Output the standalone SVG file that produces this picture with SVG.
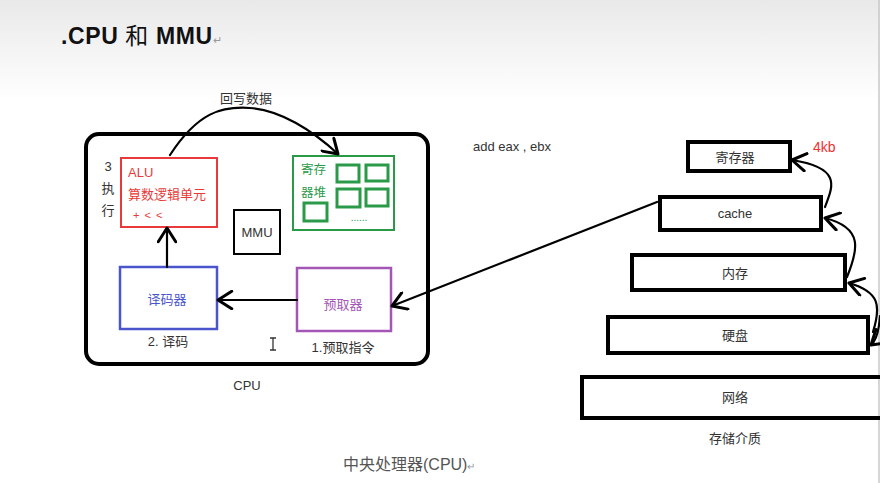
<svg xmlns="http://www.w3.org/2000/svg" width="880" height="483" viewBox="0 0 880 483">
<defs>
<linearGradient id="bg" x1="0" y1="0" x2="0" y2="1">
<stop offset="0" stop-color="#e9e9e9"/>
<stop offset="1" stop-color="#ffffff"/>
</linearGradient>
<marker id="ah" markerUnits="userSpaceOnUse" markerWidth="20" markerHeight="20" viewBox="-12 -8 14 16" refX="0" refY="0" orient="auto">
<path d="M-11,-7 L0,0 L-11,7" fill="none" stroke="#000" stroke-width="2.4" stroke-linecap="round" stroke-linejoin="round"/>
</marker>
</defs>
<style>
text{font-family:"Liberation Sans","Noto Sans CJK SC",sans-serif;}
.t{fill:#333;font-size:13px;}
.mid{text-anchor:middle;}
.blk{fill:none;stroke:#000;stroke-width:4;}
.con{fill:none;stroke:#000;stroke-width:2.2;stroke-linecap:round;}
.gsm{fill:none;stroke:#2a9a48;stroke-width:3;}
</style>
<rect width="880" height="483" fill="#fff"/>
<rect width="880" height="100" fill="url(#bg)"/>
<line x1="879" y1="0" x2="879" y2="483" stroke="#c8c8c8" stroke-width="1.5"/>

<g id="title">
<text x="61" y="44" font-size="23" font-weight="bold" fill="#111" letter-spacing="0.6">.CPU <tspan font-weight="normal">和</tspan> MMU<tspan font-size="11" font-weight="normal" fill="#999" letter-spacing="0">↵</tspan></text>
</g>

<g id="cpu">
<rect x="86" y="134" width="342" height="230" rx="13" class="blk"/>
<text x="247" y="390" class="t mid" font-size="14">CPU</text>
</g>

<g id="alu">
<rect x="121" y="158" width="96" height="69" fill="#fff" stroke="#e83a3a" stroke-width="2"/>
<text x="128" y="177" fill="#e83a3a" font-size="13">ALU</text>
<text x="128" y="199" fill="#e83a3a" font-size="13">算数逻辑单元</text>
<text x="133" y="219" fill="#e83a3a" font-size="11" letter-spacing="1">+  &lt; &lt;</text>
<text x="108" y="171" class="t mid">3</text>
<text x="108" y="193" class="t mid">执</text>
<text x="108" y="215" class="t mid">行</text>
</g>

<g id="mmu">
<rect x="234" y="210" width="46" height="44" fill="#fff" stroke="#000" stroke-width="2"/>
<text x="257" y="237" class="t mid" font-size="13">MMU</text>
</g>

<g id="regs">
<rect x="293" y="156" width="101" height="74" fill="#fff" stroke="#2a9a48" stroke-width="2"/>
<text x="301" y="174" fill="#2a9a48" font-size="12.5">寄存</text>
<text x="301" y="197" fill="#2a9a48" font-size="12.5">器堆</text>
<rect x="337" y="165" width="22" height="17" class="gsm"/>
<rect x="366" y="165" width="22" height="16" class="gsm"/>
<rect x="337" y="189" width="23" height="18" class="gsm"/>
<rect x="366" y="189" width="22" height="17" class="gsm"/>
<rect x="304" y="203" width="23" height="18" class="gsm"/>
<text x="359" y="221" fill="#2a9a48" font-size="10" class="mid">......</text>
</g>

<g id="decoder">
<rect x="120" y="267" width="97" height="62" fill="#fff" stroke="#4a55cc" stroke-width="2.5"/>
<text x="167" y="304" fill="#4a55cc" font-size="13" class="mid">译码器</text>
<text x="168" y="346" class="t mid">2. 译码</text>
</g>

<g id="prefetch">
<rect x="297" y="268" width="94" height="63" fill="#fff" stroke="#a456b4" stroke-width="2.5"/>
<text x="343" y="309" fill="#a456b4" font-size="13" class="mid">预取器</text>
<text x="343" y="352" class="t mid">1.预取指令</text>
</g>

<g id="cursor" stroke="#333" stroke-width="1.3" fill="none">
<path d="M273,338 L273,350 M270,338 L276,338 M270,350 L276,350"/>
</g>

<g id="notes">
<text x="220" y="103" class="t">回写数据</text>
<text x="473" y="151" class="t" font-size="14">add eax , ebx</text>
<text x="813" y="152" fill="#f03030" font-size="14">4kb</text>
<text x="735" y="443" class="t mid">存储介质</text>
<text x="343" y="470" fill="#555" font-size="16">中央处理器(CPU)<tspan font-size="10" fill="#999">↵</tspan></text>
</g>

<g id="reg-top">
<rect x="688" y="142" width="102" height="29" class="blk"/>
<text x="735" y="162" class="t mid">寄存器</text>
</g>
<g id="cache">
<rect x="660" y="197" width="161" height="33" class="blk"/>
<text x="735" y="218" class="t mid">cache</text>
</g>
<g id="memory">
<rect x="632" y="255" width="213" height="35" class="blk"/>
<text x="735" y="278" class="t mid">内存</text>
</g>
<g id="disk">
<rect x="608" y="317" width="260" height="36" class="blk"/>
<text x="735" y="340" class="t mid">硬盘</text>
</g>
<g id="network">
<rect x="582" y="377" width="300" height="41" class="blk"/>
<text x="735" y="402" class="t mid">网络</text>
</g>

<g id="connectors">
<path d="M170,155 C198,112 222,106 250,108 C280,110 312,130 338,154" class="con" marker-end="url(#ah)"/>
<path d="M297,300 L218,300" class="con" marker-end="url(#ah)"/>
<path d="M167,267 L167,228" class="con" marker-end="url(#ah)"/>
<path d="M657,202 L392,306" class="con" marker-end="url(#ah)"/>
<path d="M825,207 C833,186 842,168 792,160" class="con" stroke-width="2.6" marker-end="url(#ah)"/>
<path d="M847,277 C858,250 864,228 825,218" class="con" stroke-width="2.6" marker-end="url(#ah)"/>
<path d="M873,332 C881,306 880,292 849,283" class="con" stroke-width="2.6" marker-end="url(#ah)"/>
<path d="M880,316 C879,330 877,340 871,345" class="con" stroke-width="2.6" marker-end="url(#ah)"/>
</g>
</svg>
